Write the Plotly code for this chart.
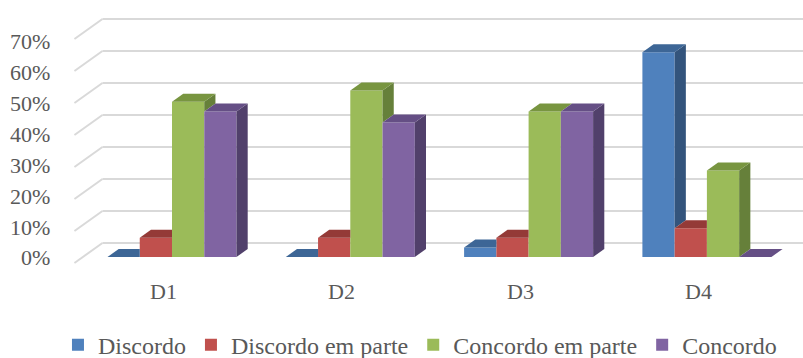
import plotly.graph_objects as go

# ---- data ----
categories = ["D1", "D2", "D3", "D4"]
series_names = ["Discordo", "Discordo em parte", "Concordo em parte", "Concordo"]
discordo = [0.0, 0.0, 0.03, 0.64]
discordo_em_parte = [0.06, 0.06, 0.06, 0.09]
concordo_em_parte = [0.485, 0.52, 0.455, 0.27]
concordo = [0.455, 0.42, 0.455, 0.0]
y_ticks = [0.0, 0.1, 0.2, 0.3, 0.4, 0.5, 0.6, 0.7]
y_tick_labels = ["0%", "10%", "20%", "30%", "40%", "50%", "60%", "70%"]

series = [discordo, discordo_em_parte, concordo_em_parte, concordo]

# ---- styling ----
front_colors = ["#4F81BD", "#C0504D", "#9BBB59", "#8064A2"]
top_colors = ["#3D6696", "#943A37", "#789540", "#654F85"]
side_colors = ["#33547C", "#7E302E", "#66803A", "#51406B"]
grid_color = "#D9D9D9"
text_color = "#595959"
font_family = "Liberation Serif"

W, H = 803, 358
PX_PER_CAT = 178.3      # horizontal pixels per category
PX_PER_UNIT = 320.0     # vertical pixels per 100 %
X0_PX, Y0_PX = 172.0, 257.0   # pixel position of category 0 / value 0 on the bar plane
BAR_GAP = 0.2765
N = len(series)

# oblique projection of the full box depth (in data units)
DEPTH_DX = 28.0 / PX_PER_CAT
DEPTH_DY = 20.0 / PX_PER_UNIT
FRONT_OFF = -0.3   # box front relative to bar front
BACK_OFF = 0.7     # box back relative to bar front
BAR_DEPTH = 0.4
bdx = BAR_DEPTH * DEPTH_DX
bdy = BAR_DEPTH * DEPTH_DY

x_range = [-X0_PX / PX_PER_CAT, (W - X0_PX) / PX_PER_CAT]
y_range = [-(H - Y0_PX) / PX_PER_UNIT, Y0_PX / PX_PER_UNIT]

fig = go.Figure()
xs = list(range(len(categories)))

# front faces
for k in range(N):
    fig.add_trace(go.Bar(
        x=xs, y=series[k], name=series_names[k],
        marker=dict(color=front_colors[k], line=dict(width=0)),
        hoverinfo="skip",
    ))

# top and side faces, clipped against the neighbouring bar to the right
bar_w = (1 - BAR_GAP) / N


def poly(px, py, color):
    fig.add_trace(go.Scatter(
        x=px + [px[0]], y=py + [py[0]], mode="lines", fill="toself",
        fillcolor=color, line=dict(width=0, color=color),
        showlegend=False, hoverinfo="skip",
    ))


for i in xs:
    for k in range(N):
        h = series[k][i]
        xl = i - (1 - BAR_GAP) / 2 + k * bar_w
        xr = xl + bar_w
        hn = series[k + 1][i] if k + 1 < N else None
        # side face
        lo = 0.0 if hn is None else hn
        if lo < h:
            poly([xr, xr, xr + bdx, xr + bdx], [lo, h, h + bdy, lo + bdy], side_colors[k])
        # top face
        if hn is None or hn <= h:
            poly([xl, xr, xr + bdx, xl + bdx], [h, h, h + bdy, h + bdy], top_colors[k])
        else:
            c = min(hn, h + bdy)
            xc = xr + bdx * (h + bdy - c) / bdy
            poly([xl, xr, xr, xc, xl + bdx], [h, h, c, h + bdy, h + bdy], top_colors[k])

# walls: gridlines on the left side wall and back wall
shapes = []
wall_x = -0.5
for v in y_ticks:
    fx, fy = wall_x + FRONT_OFF * DEPTH_DX, v + FRONT_OFF * DEPTH_DY
    bx, by = wall_x + BACK_OFF * DEPTH_DX, v + BACK_OFF * DEPTH_DY
    line = dict(color=grid_color, width=2)
    shapes.append(dict(type="line", xref="x", yref="y", x0=fx, y0=fy, x1=bx, y1=by,
                       line=line, layer="below"))
    shapes.append(dict(type="line", xref="x", yref="y", x0=bx, y0=by, x1=x_range[1], y1=by,
                       line=line, layer="below"))

annotations = []
# value axis labels on the front edge of the side wall
for v, t in zip(y_ticks, y_tick_labels):
    annotations.append(dict(
        x=(52 - X0_PX) / PX_PER_CAT, y=v * 0.966 - 0.003, xref="x", yref="y",
        text=t, showarrow=False, xanchor="right", yanchor="middle",
        font=dict(family=font_family, size=22, color=text_color),
    ))
# category labels under the front edge of the floor
for i, c in zip(xs, categories):
    annotations.append(dict(
        x=i + FRONT_OFF * DEPTH_DX, y=-0.109, xref="x", yref="y",
        text=c, showarrow=False, xanchor="center", yanchor="middle",
        font=dict(family=font_family, size=22, color=text_color),
    ))

fig.update_layout(
    width=W, height=H,
    margin=dict(l=0, r=0, t=0, b=0, pad=0, autoexpand=False),
    paper_bgcolor="white", plot_bgcolor="white",
    barmode="group", bargap=BAR_GAP, bargroupgap=0,
    xaxis=dict(range=x_range, visible=False, fixedrange=True),
    yaxis=dict(range=y_range, visible=False, fixedrange=True),
    shapes=shapes, annotations=annotations,
    showlegend=True,
    legend=dict(
        orientation="h", x=0.523, xanchor="center", y=0.036, yanchor="middle",
        font=dict(family=font_family, size=24, color=text_color),
        bgcolor="rgba(0,0,0,0)", traceorder="normal",
    ),
)

fig.write_html("out.html")
